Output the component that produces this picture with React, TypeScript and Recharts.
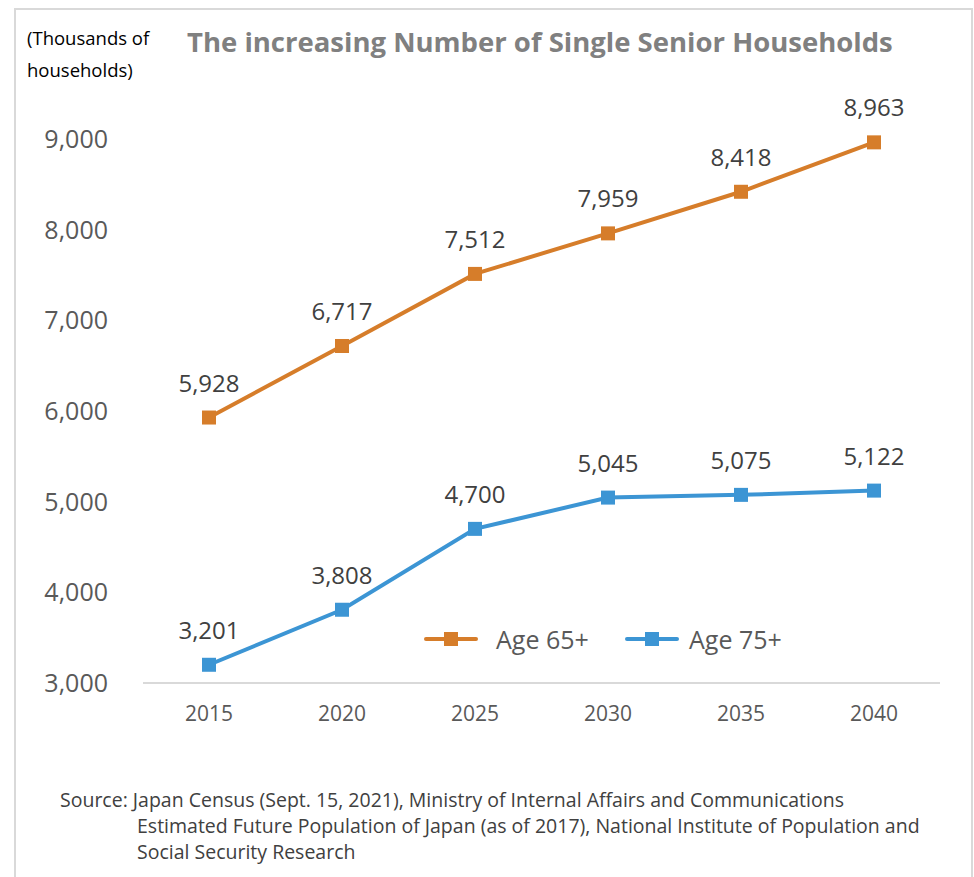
import React from "react";
import {
  LineChart,
  Line,
  XAxis,
  YAxis,
  LabelList,
} from "recharts";

const years = ["2015", "2020", "2025", "2030", "2035", "2040"];
const age65 = [5928, 6717, 7512, 7959, 8418, 8963];
const age75 = [3201, 3808, 4700, 5045, 5075, 5122];
const yTicks = [3000, 4000, 5000, 6000, 7000, 8000, 9000];
const seriesNames = ["Age 65+", "Age 75+"];

const ORANGE = "#D67D2A";
const BLUE = "#3C95D4";
const FONT = "'Open Sans', sans-serif";

const data = years.map((year, i) => ({
  year,
  age65: age65[i],
  age75: age75[i],
}));

const fmt = (v: number) => v.toLocaleString("en-US");

const SquareDot = (props: any) => {
  const { cx, cy, stroke } = props;
  if (cx == null || cy == null) return null;
  return <rect x={cx - 7} y={cy - 7} width={14} height={14} fill={stroke} />;
};

// legend drawn outside the chart so it doesn't eat plot space
const ChartLegend = () => {
  const colors = [ORANGE, BLUE];
  const lefts = [423, 624];
  return (
    <>
      {seriesNames.map((name, i) => (
        <div
          key={name}
          style={{
            position: "absolute",
            left: lefts[i],
            top: 622,
            display: "flex",
            alignItems: "center",
          }}
        >
          <svg width={56} height={16}>
            <line
              x1={3}
              y1={8}
              x2={53}
              y2={8}
              stroke={colors[i]}
              strokeWidth={4}
              strokeLinecap="round"
            />
            <rect x={21} y={1} width={14} height={14} fill={colors[i]} />
          </svg>
          <span style={{ fontSize: 25, color: "#595959", marginLeft: i === 0 ? 17 : 9 }}>
            {name}
          </span>
        </div>
      ))}
    </>
  );
};

export default function App() {
  return (
    <div
      style={{
        position: "absolute",
        left: 0,
        top: 0,
        width: 974,
        height: 877,
        background: "#fff",
        overflow: "hidden",
        fontFamily: FONT,
      }}
    >
      <div
        style={{
          position: "absolute",
          left: 14,
          top: 8,
          width: 955,
          height: 900,
          border: "2px solid #d9d9d9",
        }}
      />
      <div
        style={{
          position: "absolute",
          left: 27,
          top: 22,
          fontSize: 18.5,
          lineHeight: "32px",
          color: "#000",
        }}
      >
        (Thousands of
        <br />
        households)
      </div>
      <div
        style={{
          position: "absolute",
          left: 187,
          top: 23,
          fontSize: 27.5,
          fontWeight: 700,
          color: "#808080",
          whiteSpace: "nowrap",
        }}
      >
        The increasing Number of Single Senior Households
      </div>

      <div style={{ position: "absolute", left: 0, top: 0 }}>
        <LineChart
          width={974}
          height={877}
          data={data}
          margin={{ top: 139, right: 34, bottom: 154, left: 43 }}
        >
          <XAxis
            dataKey="year"
            padding={{ left: 66, right: 66 }}
            axisLine={{ stroke: "#d9d9d9", strokeWidth: 2 }}
            tickLine={false}
            tickSize={0}
            tickMargin={23}
            height={40}
            tick={{ fill: "#595959", fontSize: 21, fontFamily: FONT }}
          />
          <YAxis
            domain={[3000, 9000]}
            ticks={yTicks}
            width={100}
            axisLine={false}
            tickLine={false}
            tickSize={0}
            tickMargin={35}
            tickFormatter={fmt}
            tick={{ fill: "#595959", fontSize: 25, fontFamily: FONT }}
          />
          <Line
            dataKey="age65"
            name={seriesNames[0]}
            stroke={ORANGE}
            strokeWidth={4}
            dot={<SquareDot />}
            activeDot={false}
            isAnimationActive={false}
          >
            <LabelList
              dataKey="age65"
              position="top"
              offset={26}
              formatter={(v: any) => fmt(Number(v))}
              style={{ fill: "#404040", fontSize: 24, fontFamily: FONT }}
            />
          </Line>
          <Line
            dataKey="age75"
            name={seriesNames[1]}
            stroke={BLUE}
            strokeWidth={4}
            dot={<SquareDot />}
            activeDot={false}
            isAnimationActive={false}
          >
            <LabelList
              dataKey="age75"
              position="top"
              offset={26}
              formatter={(v: any) => fmt(Number(v))}
              style={{ fill: "#404040", fontSize: 24, fontFamily: FONT }}
            />
          </Line>
        </LineChart>
      </div>

      <ChartLegend />

      <div
        style={{
          position: "absolute",
          left: 60,
          top: 787,
          fontSize: 19.5,
          lineHeight: "26px",
          color: "#404040",
          whiteSpace: "nowrap",
        }}
      >
        Source: Japan Census (Sept. 15, 2021), Ministry of Internal Affairs and
        Communications
        <div style={{ paddingLeft: 77 }}>
          Estimated Future Population of Japan (as of 2017), National Institute
          of Population and
        </div>
        <div style={{ paddingLeft: 77 }}>Social Security Research</div>
      </div>
    </div>
  );
}
